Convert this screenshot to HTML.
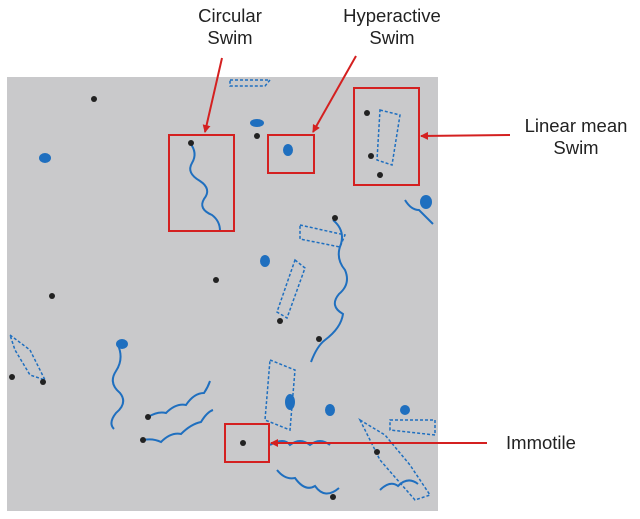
<!DOCTYPE html>
<html><head><meta charset="utf-8"><style>
body{margin:0;width:640px;height:519px;background:#fff;overflow:hidden}
svg{display:block}
text{font-family:"Liberation Sans",sans-serif;font-size:18.5px;fill:#222}
</style></head><body>
<svg width="640" height="519" viewBox="0 0 640 519">
<defs><marker id="a" markerWidth="8" markerHeight="8" refX="7" refY="4" orient="auto" markerUnits="userSpaceOnUse"><path d="M0,0 L8,4 L0,8 z" fill="#d42020"/></marker></defs>
<rect x="7" y="77" width="431" height="434" fill="#c9c9cb"/>
<g fill="none" stroke="#1f6fbf" stroke-width="2">
<path d="M190,143 q8,10 2,20 q-6,10 8,18 q12,8 4,18 q-6,10 8,16 q8,6 8,16"/>
<path d="M118,345 q6,14 -2,26 q-8,12 4,22 q8,10 -4,20 q-8,10 -2,16"/>
<path d="M148,417 q10,-6 18,-4 q10,-10 20,-8 q8,-12 18,-12 q4,-6 6,-12"/>
<path d="M143,440 q10,-2 18,2 q10,-10 20,-8 q10,-10 20,-12 q6,-10 12,-12"/>
<path d="M333,220 q12,10 8,24 q-6,14 4,26 q6,14 -6,24 q-10,12 4,20 q-2,14 -18,26 q-8,6 -14,22"/>
<path d="M270,445 q14,-8 20,0 q10,-8 20,0 q10,-8 20,0"/>
<path d="M277,470 q8,10 18,8 q10,14 20,8 q10,14 24,2"/>
<path d="M380,490 q10,-10 18,-4 q10,-10 20,-2"/>
<path d="M405,200 q6,10 14,10 q6,6 14,14"/>
</g>
<g fill="none" stroke="#1f6fbf" stroke-width="1.5" stroke-dasharray="3,2">
<path d="M230,80 l40,0 l-5,6 l-35,0 z"/>
<path d="M300,225 l45,10 l-5,12 l-40,-8 z"/>
<path d="M295,260 l10,8 l-18,50 l-10,-6 z"/>
<path d="M10,335 l20,15 l15,30 l-15,-5 l-15,-25 z"/>
<path d="M270,360 l25,10 l-5,60 l-25,-10 z"/>
<path d="M360,420 l25,15 l25,30 l20,30 l-15,5 l-35,-40 z"/>
<path d="M390,420 l45,0 l0,15 l-45,-5 z"/>
<path d="M380,110 l20,5 l-8,50 l-15,-5 z"/>
</g>
<g fill="#1f6fbf">
<ellipse cx="45" cy="158" rx="6" ry="5"/><ellipse cx="257" cy="123" rx="7" ry="4"/>
<ellipse cx="288" cy="150" rx="5" ry="6"/><ellipse cx="426" cy="202" rx="6" ry="7"/>
<ellipse cx="265" cy="261" rx="5" ry="6"/><ellipse cx="122" cy="344" rx="6" ry="5"/>
<ellipse cx="290" cy="402" rx="5" ry="8"/><ellipse cx="330" cy="410" rx="5" ry="6"/><ellipse cx="405" cy="410" rx="5" ry="5"/>
</g>
<g fill="#222">
<circle cx="94" cy="99" r="3"/><circle cx="191" cy="143" r="3"/><circle cx="257" cy="136" r="3"/>
<circle cx="367" cy="113" r="3"/><circle cx="371" cy="156" r="3"/><circle cx="380" cy="175" r="3"/>
<circle cx="52" cy="296" r="3"/><circle cx="216" cy="280" r="3"/><circle cx="280" cy="321" r="3"/>
<circle cx="12" cy="377" r="3"/><circle cx="43" cy="382" r="3"/><circle cx="148" cy="417" r="3"/><circle cx="143" cy="440" r="3"/>
<circle cx="243" cy="443" r="3"/><circle cx="319" cy="339" r="3"/><circle cx="335" cy="218" r="3"/><circle cx="377" cy="452" r="3"/><circle cx="333" cy="497" r="3"/>
</g>
<g fill="none" stroke="#d42020" stroke-width="2">
<rect x="169" y="135" width="65" height="96"/>
<rect x="268" y="135" width="46" height="38"/>
<rect x="354" y="88" width="65" height="97"/>
<rect x="225" y="424" width="44" height="38"/>
<line x1="222" y1="58" x2="205" y2="132" marker-end="url(#a)"/>
<line x1="356" y1="56" x2="313" y2="132" marker-end="url(#a)"/>
<line x1="510" y1="135" x2="421" y2="136" marker-end="url(#a)"/>
<line x1="487" y1="443" x2="271" y2="443" marker-end="url(#a)"/>
</g>
<g text-anchor="middle">
<text x="230" y="22">Circular</text><text x="230" y="44">Swim</text>
<text x="392" y="22">Hyperactive</text><text x="392" y="44">Swim</text>
<text x="576" y="132">Linear mean</text><text x="576" y="154">Swim</text>
<text x="541" y="449">Immotile</text>
</g>
</svg>
</body></html>
